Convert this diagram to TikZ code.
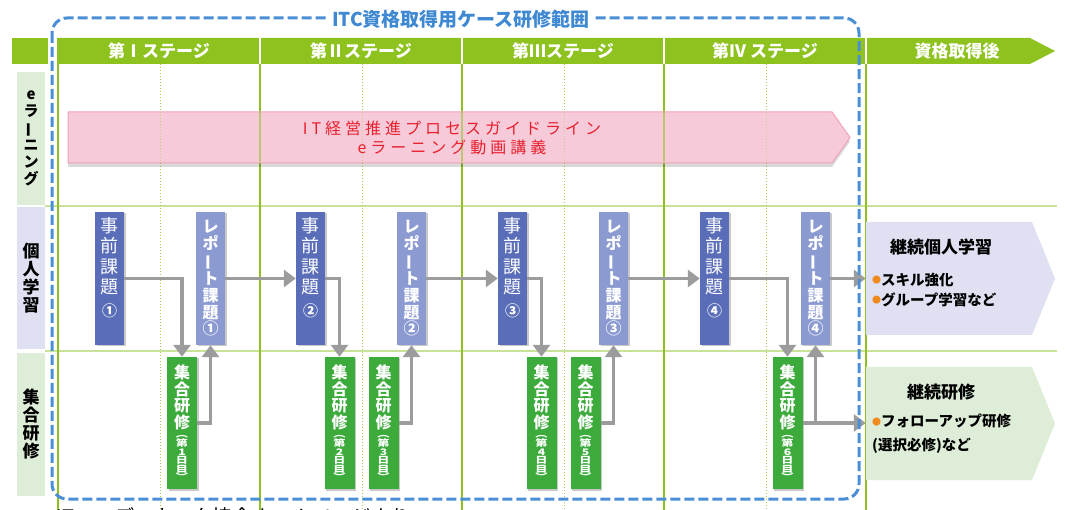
\documentclass[tikz,border=0pt]{standalone}
\usepackage{fontspec}
\usepackage{graphicx}
\setmainfont{Noto Sans CJK JP}
\newfontfamily\lsfont{Noto Sans CJK JP}[LetterSpace=25]
\newfontfamily\widefont{Noto Sans CJK JP}[FakeStretch=1.35]
\usetikzlibrary{arrows.meta,shadows}
\definecolor{hdrgreen}{HTML}{8DC21F}
\definecolor{linegreen}{HTML}{8DC21F}
\definecolor{hlgreen}{HTML}{C8E29A}
\definecolor{dotgreen}{HTML}{A9CF4E}
\definecolor{dashblue}{HTML}{4A8FD6}
\definecolor{titleblue}{HTML}{3F88D2}
\definecolor{jzblue}{HTML}{5A6DB8}
\definecolor{rpblue}{HTML}{8C9AD2}
\definecolor{shgreen}{HTML}{3DAA3C}
\definecolor{lavbg}{HTML}{DFE1F3}
\definecolor{grnbg}{HTML}{DDEDD8}
\definecolor{pinkfill}{HTML}{F7CAD9}
\definecolor{pinkline}{HTML}{F0A3B5}
\definecolor{redtext}{HTML}{E8202E}
\definecolor{arrgray}{HTML}{9C9C9C}
\definecolor{dotorange}{HTML}{F08A1C}
\newcommand\vbar{\rotatebox[origin=c]{90}{ー}}
\newcommand\jztext[1]{\parbox[c][133pt][t]{29pt}{\centering\fontsize{18}{20.5}\selectfont\vspace*{5pt}事\\前\\課\\題\\[2pt]{\fontsize{15}{20.5}\selectfont\bfseries #1}\par}}
\newcommand\rptext[1]{\parbox[c][133pt][c]{29pt}{\centering\fontsize{16}{16.8}\selectfont\bfseries レ\\ポ\\\vbar\\ト\\課\\題\\#1\par}}
\newcommand\shtext[1]{\parbox[c][132pt][c]{30pt}{\centering{\fontsize{16}{16.5}\selectfont\bfseries 集\\合\\研\\修\par}\vspace{1pt}{\widefont\fontsize{9}{8.6}\selectfont\bfseries ︵\\第\\#1\\日\\目\\︶\par}}}
\tikzset{
  shad/.style={drop shadow={shadow xshift=1.5pt,shadow yshift=-1.5pt,opacity=0.35,fill=black!60}},
  jzbox/.style={fill=jzblue,text=white,inner sep=0pt,minimum width=29pt,minimum height=133pt,shad},
  rpbox/.style={fill=rpblue,text=white,inner sep=0pt,minimum width=29pt,minimum height=133pt,shad},
  shbox/.style={fill=shgreen,text=white,inner sep=0pt,minimum width=30pt,minimum height=132pt,shad},
  lblcell/.style={inner sep=0pt,minimum width=28pt,minimum height=133pt},
  hdrtxt/.style={text=white,font=\fontsize{17}{17}\selectfont\bfseries,inner sep=0pt},
  flow/.style={draw=arrgray,line width=3.5pt,-{Triangle[length=12pt,width=17pt]}},
  vline/.style={draw=linegreen,line width=2pt},
  dline/.style={draw=dotgreen,line width=1pt,dotted},
  hline/.style={draw=hlgreen,line width=1.5pt},
  bul/.style={anchor=west,align=left,inner sep=0pt,font=\fontsize{14.5}{20}\selectfont\bfseries},
}
\newcommand\bdot{\raisebox{1.5pt}{\fontsize{9}{9}\selectfont\color{dotorange}●}}
\begin{document}
\begin{tikzpicture}[x=1pt,y=-1pt]
\useasboundingbox (0,0) rectangle (1066,510);
\fill[white] (0,0) rectangle (1066,510);
% header
\fill[hdrgreen] (12,38) rectangle (48,64);
\fill[hdrgreen] (57,38) -- (1030,38) -- (1055,51) -- (1030,64) -- (57,64) -- cycle;
\foreach \x in {260,462,664,866} \draw[white,line width=2.5pt] (\x,37) -- (\x,65);
% label cells
\node[lblcell,fill=grnbg] (le) at (31,138.5) {\parbox{28pt}{\centering\fontsize{15}{17}\selectfont\bfseries e\\ラ\\\vbar\\ニ\\ン\\グ\par}};
\node[lblcell,fill=lavbg,minimum height=142pt] (lk) at (31,278) {\parbox{28pt}{\centering\fontsize{17}{18}\selectfont\bfseries 個\\人\\学\\習\par}};
\node[lblcell,fill=grnbg,minimum height=143pt] (ls) at (31,424.5) {\parbox{28pt}{\centering\fontsize{17}{18}\selectfont\bfseries 集\\合\\研\\修\par}};
% grid lines
\draw[hline] (45,206) -- (1057,206);
\draw[hline] (45,351) -- (1057,351);
\foreach \x in {160,362,564,766} \draw[dline] (\x,64) -- (\x,510);
\foreach \x in {58,260,462,664,866} \draw[vline] (\x,64) -- (\x,510);
% pink arrow
\path[fill=pinkfill,draw=pinkline,line width=1pt,drop shadow={shadow xshift=0pt,shadow yshift=-4pt,opacity=0.15,fill=black}]
  (68,112) -- (832,112) -- (850,137.5) -- (832,163) -- (68,163) -- cycle;
\foreach \x in {260,462,664} \draw[vline,opacity=0.55] (\x,112.5) -- (\x,162.5);
\foreach \x in {160,362,564,766} \draw[dline,opacity=0.6] (\x,112.5) -- (\x,162.5);
\node[text=redtext,font=\lsfont\fontsize{16}{19}\selectfont,align=center,inner sep=0pt] (pk) at (452,137.5) {IT経営推進プロセスガイドライン\\eラーニング動画講義};
% right boxes
\fill[lavbg] (866,222) -- (1032,222) -- (1055,278.5) -- (1032,335) -- (866,335) -- cycle;
\node[inner sep=0pt,minimum width=166pt,minimum height=113pt] (k1) at (949,278.5) {};
\fill[grnbg] (866,367) -- (1032,367) -- (1055,423.5) -- (1032,480) -- (866,480) -- cycle;
\node[inner sep=0pt,minimum width=166pt,minimum height=113pt] (k2) at (949,423.5) {};
\node[font=\fontsize{17}{17}\selectfont\bfseries,inner sep=0pt] (k1t) at (941,247) {継続個人学習};
\node[bul] (k1b) at (872,290) {\bdot スキル強化\\\bdot グループ学習など};
\node[font=\fontsize{17}{17}\selectfont\bfseries,inner sep=0pt] (k2t) at (941,392) {継続研修};
\node[bul,font=\fontsize{14.5}{24}\selectfont\bfseries] (k2b) at (872,434) {\bdot フォローアップ研修\\(選択必修)など};
% boxes
\node[jzbox] (j1) at (109.5,278.5) {\jztext{①}};
\node[rpbox] (r1) at (210.5,278.5) {\rptext{①}};
\node[jzbox] (j2) at (310.5,278.5) {\jztext{②}};
\node[rpbox] (r2) at (411.5,278.5) {\rptext{②}};
\node[jzbox] (j3) at (512.5,278.5) {\jztext{③}};
\node[rpbox] (r3) at (613.5,278.5) {\rptext{③}};
\node[jzbox] (j4) at (714.5,278.5) {\jztext{④}};
\node[rpbox] (r4) at (815.5,278.5) {\rptext{④}};
\node[shbox] (s1) at (182,423) {\shtext{1}};
\node[shbox] (s2) at (339.5,423) {\shtext{2}};
\node[shbox] (s3) at (383.5,423) {\shtext{3}};
\node[shbox] (s4) at (541.5,423) {\shtext{4}};
\node[shbox] (s5) at (585.5,423) {\shtext{5}};
\node[shbox] (s6) at (787.5,423) {\shtext{6}};
% arrows
\draw[flow] (j1.east) -| (s1.north);
\draw[flow] (s1.east) -| (r1.south);
\draw[flow] (r1.east) -- (j2.west);
\draw[flow] (j2.east) -| (s2.north);
\draw[flow] (s3.east) -| (r2.south);
\draw[flow] (r2.east) -- (j3.west);
\draw[flow] (j3.east) -| (s4.north);
\draw[flow] (s5.east) -| (r3.south);
\draw[flow] (r3.east) -- (j4.west);
\draw[flow] (j4.east) -| (s6.north);
\draw[flow] (s6.east) -| (r4.south);
\draw[flow] (s6.east) -- (k2.west |- s6.east);
\draw[flow] (r4.east) -- (k1.west);
% header texts
\node[hdrtxt] (h1) at (159,51) {第Ⅰステージ};
\node[hdrtxt] (h2) at (361,51) {第Ⅱステージ};
\node[hdrtxt] (h3) at (563,51) {第Ⅲステージ};
\node[hdrtxt] (h4) at (765,51) {第Ⅳ ステージ};
\node[hdrtxt] (h5) at (957,51) {資格取得後};
% dashed range
\draw[dashblue,line width=3pt,dash pattern=on 10pt off 4pt,rounded corners=15pt] (52,18) rectangle (859,499);
\node[font=\fontsize{19}{19}\selectfont\bfseries,text=titleblue,fill=white,inner xsep=4pt,inner ysep=1pt] (title) at (461,19) {ITC資格取得用ケース研修範囲};
% source (cut by the page edge, as in the reference)
\node[anchor=west,inner sep=0pt,font=\fontsize{20}{20}\selectfont] (src) at (56,517) {ITコーディネータ協会ホームページより};
\end{tikzpicture}
\end{document}
